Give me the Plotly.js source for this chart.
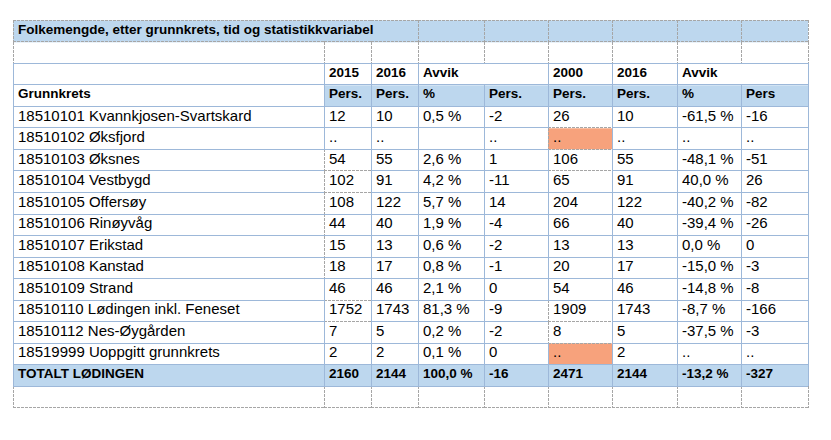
<!DOCTYPE html>
<html><head><meta charset="utf-8">
<script src="https://cdn.plot.ly/plotly-3.0.1.min.js"></script>
<style>
html,body{margin:0;padding:0;background:#fff}
#chart path.js-line{shape-rendering:crispEdges}
</style>
</head><body><div id="chart" style="width:831px;height:440px"></div>
<script>
// ---------- data ----------
const tableTitle = 'Folkemengde, etter grunnkrets, tid og statistikkvariabel';
const yearHeader = ['', '2015', '2016', 'Avvik', '', '2000', '2016', 'Avvik', ''];
const unitHeader = ['Grunnkrets', 'Pers.', 'Pers.', '%', 'Pers.', 'Pers.', 'Pers.', '%', 'Pers'];
const grunnkrets = [
  '18510101 Kvannkjosen-Svartskard', '18510102 Øksfjord', '18510103 Øksnes',
  '18510104 Vestbygd', '18510105 Offersøy', '18510106 Rinøyvåg',
  '18510107 Erikstad', '18510108 Kanstad', '18510109 Strand',
  '18510110 Lødingen inkl. Feneset', '18510112 Nes-Øygården', '18519999 Uoppgitt grunnkrets'
];
// null = "..", '' = blank cell
const pers2015       = [12, null, 54, 102, 108, 44, 15, 18, 46, 1752, 7, 2];
const pers2016       = [10, null, 55, 91, 122, 40, 13, 17, 46, 1743, 5, 2];
const avvikPst1516   = [0.5, '', 2.6, 4.2, 5.7, 1.9, 0.6, 0.8, 2.1, 81.3, 0.2, 0.1];
const avvikPers1516  = [-2, null, 1, -11, 14, -4, -2, -1, 0, -9, -2, 0];
const pers2000       = [26, null, 106, 65, 204, 66, 13, 20, 54, 1909, 8, null];
const pers2016b      = [10, null, 55, 91, 122, 40, 13, 17, 46, 1743, 5, 2];
const avvikPst0016   = [-61.5, null, -48.1, 40.0, -40.2, -39.4, 0.0, -15.0, -14.8, -8.7, -37.5, null];
const avvikPers0016  = [-16, null, -51, 26, -82, -26, 0, -3, -8, -166, -3, null];
const totalLabel = 'TOTALT LØDINGEN';
const totalValues = [2160, 2144, 100.0, -16, 2471, 2144, -13.2, -327];

// ---------- layout constants ----------
const colEdges = [13, 324, 371, 418, 484, 548, 612, 677, 741, 808];
const BLUE = '#BDD7EE', ORANGE = '#F7A27C', GRID = '#9DB8D9', DASH = '#A6A6A6';
const FONT = 'Liberation Sans, Arial, sans-serif';

const fmtInt = v => v === null ? '..' : (v === '' ? '' : String(v));
const fmtPct = v => v === null ? '..' : (v === '' ? '' : v.toFixed(1).replace('.', ',') + ' %');
const colFmt = [fmtInt, fmtInt, fmtPct, fmtInt, fmtInt, fmtInt, fmtPct, fmtInt];
const dataCols = [pers2015, pers2016, avvikPst1516, avvikPers1516, pers2000, pers2016b, avvikPst0016, avvikPers0016];

const nData = grunnkrets.length;
const R_TITLE = 0, R_BLANK = 1, R_YEAR = 2, R_UNIT = 3, R_DATA = 4;
const R_TOTAL = R_DATA + nData, R_END = R_TOTAL + 1, NROWS = R_END + 1;
const NCOLS = colEdges.length - 1;

// ---------- cell fills (heatmap) ----------
const z = [];
for (let r = 0; r < NROWS; r++) {
  const row = [];
  for (let c = 0; c < NCOLS; c++) {
    let v = 0;
    if (r === R_TITLE || r === R_TOTAL) v = 1;
    else if (r === R_UNIT) v = c === 0 ? 0 : 1;
    else if (r >= R_DATA && r < R_TOTAL && c === 5 && pers2000[r - R_DATA] === null) v = 2;
    row.push(v);
  }
  z.push(row);
}
const rowEdges = Array.from({length: NROWS + 1}, (_, i) => i);
const fillTrace = {
  type: 'heatmap', x: colEdges, y: rowEdges, z: z, zmin: 0, zmax: 2,
  colorscale: [[0, '#FFFFFF'], [0.5, BLUE], [1, ORANGE]],
  showscale: false, hoverinfo: 'skip', zsmooth: false
};

// ---------- borders ----------
const solid = {x: [], y: []}, dashed = {x: [], y: []};
function seg(x0, y0, x1, y1, isDash) {
  const t = isDash ? dashed : solid;
  t.x.push(x0, x1, null); t.y.push(y0, y1, null);
}
const dashH = {1: [7, 8, 13, 14], 5: [5, 6, 7, 14, 15]};
const dashV = {1: [6, 7, 8, 9, 10, 11], 5: [5, 13, 14]};
// horizontal lines
for (let b = 0; b <= NROWS; b++) {
  for (let c = 0; c < NCOLS; c++) {
    const isDash = b <= 1 || b === NROWS || (dashH[c] && dashH[c].includes(b));
    seg(colEdges[c], b, colEdges[c + 1], b, isDash);
  }
}
// vertical lines
for (let r = 0; r < NROWS; r++) {
  for (let e = 0; e < colEdges.length; e++) {
    if (r === R_TITLE) {
      if (e === 1 || e === 2) continue;
      seg(colEdges[e], r, colEdges[e], r + 1, true);
    } else if (r === R_BLANK || r === R_END) {
      seg(colEdges[e], r, colEdges[e], r + 1, true);
    } else if (r === R_YEAR) {
      if (e === 4 || e === 8) continue;
      seg(colEdges[e], r, colEdges[e], r + 1, false);
    } else {
      const isDash = dashV[e] && dashV[e].includes(r);
      seg(colEdges[e], r, colEdges[e], r + 1, isDash);
    }
  }
}
const dashTrace = {type: 'scatter', mode: 'lines', x: dashed.x, y: dashed.y, connectgaps: false,
  line: {color: DASH, width: 1, dash: '3px,1px'}, hoverinfo: 'skip'};
const solidTrace = {type: 'scatter', mode: 'lines', x: solid.x, y: solid.y, connectgaps: false,
  line: {color: GRID, width: 1}, hoverinfo: 'skip'};

// ---------- text ----------
const annotations = [];
function cellText(r, c, text, bold) {
  if (text === '') return;
  annotations.push({
    x: colEdges[c], y: r + 0.5, xref: 'x', yref: 'y', text: text, showarrow: false,
    xanchor: 'left', yanchor: 'middle', xshift: 3, yshift: 2,
    font: {family: FONT, size: bold ? 13.5 : 15, color: '#000', weight: bold ? 'bold' : 'normal'}
  });
}
cellText(R_TITLE, 0, tableTitle, true);
yearHeader.forEach((t, c) => cellText(R_YEAR, c, t, true));
unitHeader.forEach((t, c) => cellText(R_UNIT, c, t, true));
grunnkrets.forEach((name, i) => {
  const r = R_DATA + i;
  cellText(r, 0, name, false);
  dataCols.forEach((col, k) => cellText(r, k + 1, colFmt[k](col[i]), false));
});
cellText(R_TOTAL, 0, totalLabel, true);
totalValues.forEach((v, k) => cellText(R_TOTAL, k + 1, colFmt[k](v), true));

const layout = {
  width: 831, height: 440,
  margin: {l: 10, r: 20, t: 16, b: 28, pad: 0},
  paper_bgcolor: '#fff', plot_bgcolor: '#fff',
  showlegend: false,
  xaxis: {range: [10, 811], visible: false, fixedrange: true},
  yaxis: {range: [NROWS + 0.2, -0.2], visible: false, fixedrange: true},
  annotations: annotations,
  font: {family: FONT}
};
Plotly.newPlot('chart', [fillTrace, dashTrace, solidTrace], layout, {displayModeBar: false, staticPlot: true});
</script>
</body></html>
